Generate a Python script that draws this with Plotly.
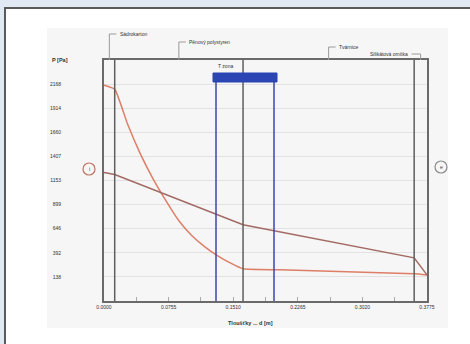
import plotly.graph_objects as go

# ---------------- data ----------------
layer_bounds = [0.0, 0.0125, 0.1625, 0.3625, 0.3775]
layer_names = ["Sádrokarton", "Pěnový polystyren", "Tvárnice", "Silikátová omítka"]
tzone = [0.1309, 0.1987]

# saturated vapour pressure curve
x_sat = [0.0, 0.0125, 0.0275, 0.0425, 0.0575, 0.0725, 0.0875, 0.1025, 0.1175, 0.1325, 0.1475, 0.1625, 0.2057, 0.3625, 0.3775]
p_sat = [2157, 2115, 1748, 1434, 1168, 938, 729, 574, 457, 362, 285, 223, 212, 170, 159]

# partial vapour pressure curve
x_par = [0.0, 0.0125, 0.1625, 0.3625, 0.3775]
p_par = [1238, 1216, 688, 339, 159]

y_ticks = [138, 392, 646, 899, 1153, 1407, 1660, 1914, 2168]
x_ticks = [0.0, 0.0755, 0.1510, 0.2265, 0.3020, 0.3775]
x_ticktext = ["0.0000", "0.0755", "0.1510", "0.2265", "0.3020", "0.3775"]

# ---------------- geometry helpers (pixel -> paper) ----------------
L, R, T, B = 104, 427, 60, 301
W, H = 470, 344
def xp(px):
    return (px - L) / (R - L)
def yp(py):
    return (B - py) / (B - T)

FONT = "Liberation Sans, Arial, sans-serif"

fig = go.Figure()
fig.add_trace(go.Scatter(x=x_sat, y=p_sat, mode="lines",
                         line=dict(color="#de7e66", width=1.5, shape="spline", smoothing=0.4),
                         hoverinfo="skip"))
fig.add_trace(go.Scatter(x=x_par, y=p_par, mode="lines",
                         line=dict(color="#a36a64", width=1.5), hoverinfo="skip"))

shapes = []
# outer white card with dark frame
shapes.append(dict(type="rect", xref="paper", yref="paper", layer="below",
                   x0=xp(5), x1=xp(480), y0=yp(8), y1=yp(360),
                   fillcolor="white", line=dict(color="#5a5a5a", width=2)))
# light grey chart region
shapes.append(dict(type="rect", xref="paper", yref="paper", layer="below",
                   x0=xp(47), x1=xp(448), y0=yp(28), y1=yp(328),
                   fillcolor="#f6f6f6", line=dict(width=0)))

# layer boundary lines
for xb in layer_bounds[1:-1]:
    shapes.append(dict(type="line", xref="x", yref="paper", x0=xb, x1=xb, y0=0, y1=1,
                       line=dict(color="#5e5e5e", width=1.5)))

# T zone lines and bar
for xb in tzone:
    shapes.append(dict(type="line", xref="x", yref="paper", x0=xb, x1=xb, y0=0, y1=yp(78),
                       line=dict(color="#3b46a8", width=1.5)))
pad = 3 / 855.6
shapes.append(dict(type="rect", xref="x", yref="paper", x0=tzone[0] - pad, x1=tzone[1] + pad,
                   y0=yp(82), y1=yp(73), fillcolor="#2b45b2", line=dict(color="#2b45b2", width=1)))

# layer labels with leader lines
label_py = [34, 42, 47, 54]
annotations = []
off = 7 / 855.6
for i, name in enumerate(layer_names):
    mid = (layer_bounds[i] + layer_bounds[i + 1]) / 2
    ypos = yp(label_py[i])
    if i < 3:
        hx = mid + off
        shapes.append(dict(type="path", xref="x", yref="paper",
                           path=f"M {mid} 1 L {mid} {ypos} L {hx} {ypos}",
                           line=dict(color="#9a9a9a", width=1)))
        annotations.append(dict(x=hx + 1.5 / 855.6, y=ypos, xref="x", yref="paper", text=name,
                                showarrow=False, xanchor="left", yanchor="middle",
                                font=dict(size=5, color="#333", family=FONT)))
    else:
        hx = mid - 9 / 855.6
        shapes.append(dict(type="path", xref="x", yref="paper",
                           path=f"M {mid} 1 L {mid} {ypos} L {hx} {ypos}",
                           line=dict(color="#9a9a9a", width=1)))
        annotations.append(dict(x=hx - 1.5 / 855.6, y=ypos, xref="x", yref="paper", text=name,
                                showarrow=False, xanchor="right", yanchor="middle",
                                font=dict(size=5, color="#333", family=FONT)))

# T zone label
annotations.append(dict(x=tzone[0], y=yp(66), xref="x", yref="paper", text="T zona",
                        showarrow=False, xanchor="left", yanchor="middle",
                        font=dict(size=5, color="#333", family=FONT)))

# circles i / e
for cx, cy, txt, col in [(89, 169, "i", "#c0705c"), (441, 167, "e", "#8a8a8a")]:
    shapes.append(dict(type="circle", xref="paper", yref="paper",
                       x0=xp(cx - 6), x1=xp(cx + 6), y0=yp(cy + 6), y1=yp(cy - 6),
                       line=dict(color=col, width=1.2), fillcolor="rgba(0,0,0,0)"))
    annotations.append(dict(x=xp(cx), y=yp(cy), xref="paper", yref="paper", text=txt,
                            showarrow=False, xanchor="center", yanchor="middle",
                            font=dict(size=5, color="#444", family=FONT)))

# axis titles
annotations.append(dict(x=xp(50), y=yp(60), xref="paper", yref="paper", text="<b>P [Pa]</b>",
                        showarrow=False, xanchor="left", yanchor="middle",
                        font=dict(size=5.5, color="#333", family=FONT)))
annotations.append(dict(x=xp(250), y=yp(323), xref="paper", yref="paper",
                        text="<b>Tloušťky ... d [m]</b>",
                        showarrow=False, xanchor="center", yanchor="middle",
                        font=dict(size=5.5, color="#333", family=FONT)))

fig.update_layout(
    width=W, height=H,
    margin=dict(l=L, r=W - R, t=T, b=H - B, pad=0),
    paper_bgcolor="#dfe8f3",
    plot_bgcolor="white",
    showlegend=False,
    shapes=shapes,
    annotations=annotations,
    font=dict(family=FONT, size=5, color="#333"),
)
fig.update_xaxes(range=[0, 0.3775], tickvals=x_ticks, ticktext=x_ticktext,
                 ticks="inside", ticklen=4, tickcolor="#aaa",
                 minor=dict(ticks="inside", dtick=0.03775, tick0=0, ticklen=4, tickcolor="#aaa"),
                 showgrid=False, zeroline=False,
                 showline=True, linecolor="#6a6a6a", linewidth=2, mirror=True,
                 tickfont=dict(size=5, color="#333"))
fig.update_yaxes(range=[-115.75, 2421.75], tickvals=y_ticks,
                 ticks="", showgrid=True, gridcolor="#e2e2e2", gridwidth=1,
                 zeroline=False, showline=True, linecolor="#6a6a6a", linewidth=2, mirror=True,
                 ticklabelstandoff=40, tickfont=dict(size=5, color="#333"))

fig.write_html("out.html", config={"displayModeBar": False},
               post_script="document.body.style.margin='0';document.body.style.overflow='hidden';"
                           "document.body.style.background='#dfe8f3';")
